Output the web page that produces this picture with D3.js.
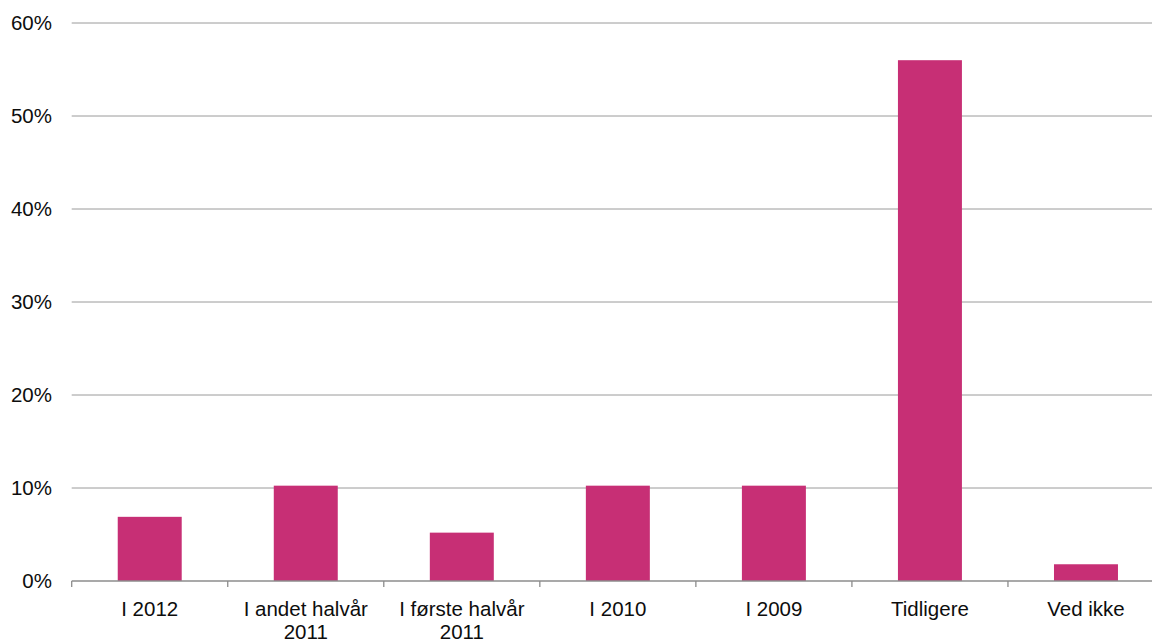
<!DOCTYPE html>
<html><head><meta charset="utf-8">
<script src="https://cdn.jsdelivr.net/npm/d3@7"></script>
<style>body{margin:0;background:#fff}svg{display:block}</style>
</head><body>
<svg id="c" width="1152" height="641"></svg>
<script>
const categories = [["I 2012"], ["I andet halvår", "2011"], ["I første halvår", "2011"], ["I 2010"], ["I 2009"], ["Tidligere"], ["Ved ikke"]];
const values = [6.9, 10.25, 5.2, 10.25, 10.25, 56.0, 1.8];
const yTicks = [0, 10, 20, 30, 40, 50, 60];

(function () {
const svg = d3.select("#c");
const mLeft = 71.7, mRight = 1164, mTop = 23, mBottom = 581;
const keys = categories.map((c, i) => i);
const x = d3.scaleBand().domain(keys).range([mLeft, mRight]).paddingInner(0.59).paddingOuter(0.295);
const xb = d3.scaleBand().domain(keys).range([mLeft, mRight]);
const y = d3.scaleLinear().domain([0, 60]).range([mBottom, mTop]);
const font = "'Liberation Sans', Arial, sans-serif";

// gridlines
svg.append("g").selectAll("line").data(yTicks.filter(d => d > 0)).join("line")
  .attr("x1", mLeft).attr("x2", mRight)
  .attr("y1", d => y(d)).attr("y2", d => y(d))
  .attr("stroke", "#9a9a9a").attr("stroke-width", 1);

// y labels
svg.append("g").selectAll("text").data(yTicks).join("text")
  .attr("x", 52).attr("y", d => y(d)).attr("dy", "0.36em")
  .attr("text-anchor", "end").attr("font-family", font).attr("font-size", 20.5)
  .attr("fill", "#0d0d0d").text(d => d + "%");

// bars
svg.append("g").selectAll("rect").data(values).join("rect")
  .attr("x", (d, i) => x(i)).attr("width", x.bandwidth())
  .attr("y", d => y(d)).attr("height", d => mBottom - y(d))
  .attr("fill", "#c72f75");

// x axis line
svg.append("line").attr("x1", mLeft).attr("x2", mRight).attr("y1", mBottom).attr("y2", mBottom)
  .attr("stroke", "#8c8c8c").attr("stroke-width", 1.3);
// ticks at band boundaries
const bounds = keys.map(i => xb(i)).concat([mRight]);
svg.append("g").selectAll("line").data(bounds).join("line")
  .attr("x1", d => d).attr("x2", d => d).attr("y1", mBottom).attr("y2", mBottom + 6)
  .attr("stroke", "#8c8c8c").attr("stroke-width", 1.3);

// category labels
const lab = svg.append("g").selectAll("text").data(categories).join("text")
  .attr("x", (d, i) => xb(i) + xb.bandwidth() / 2).attr("y", 615.5)
  .attr("text-anchor", "middle").attr("font-family", font).attr("font-size", 20.5).attr("fill", "#0d0d0d");
lab.selectAll("tspan").data(d => d).join("tspan")
  .attr("x", function() { return this.parentNode.getAttribute("x"); })
  .attr("dy", (d, i) => i === 0 ? 0 : 23).text(d => d);
})();
</script>
</body></html>
